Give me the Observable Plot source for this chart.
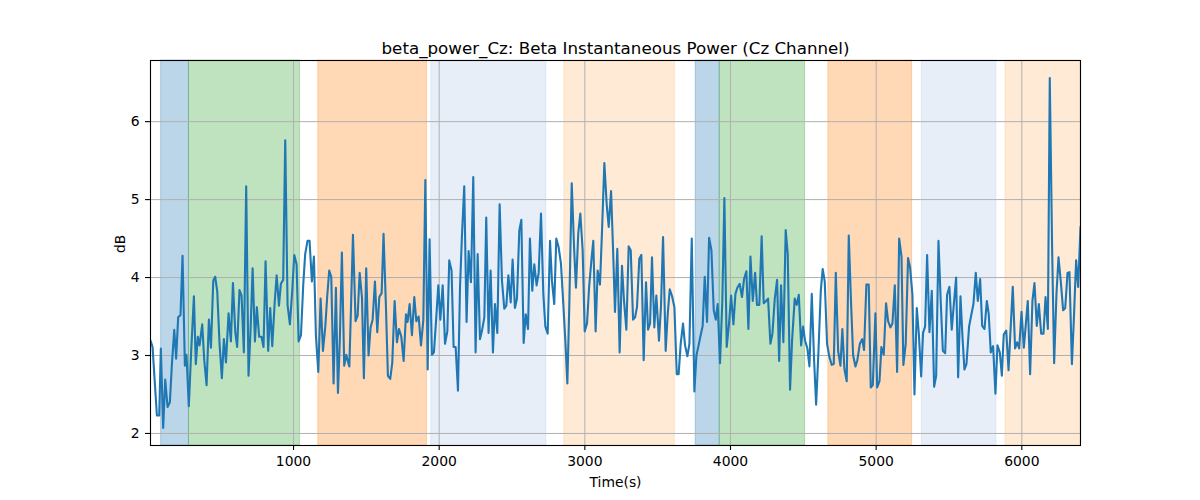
<!DOCTYPE html>
<html><head><meta charset="utf-8">
<script src="https://cdn.jsdelivr.net/npm/d3@7"></script>
<script src="https://cdn.jsdelivr.net/npm/@observablehq/plot@0.6"></script>
<style>body{margin:0;background:#fff}</style>
</head><body><div id="chart"></div>
<script>
const times = [18,32,62,78,89,105,119,135,151,165,181,194,208,224,238,254,265,281,297,316,329,343,355,373,387,403,419,433,449,462,476,492,508,522,536,554,570,584,600,613,629,643,659,675,691,705,719,735,748,764,780,794,808,826,840,854,870,884,900,913,929,943,959,975,991,1005,1021,1035,1051,1067,
1080,1096,1110,1126,1140,1154,1170,1186,1202,1218,1231,1245,1259,1275,1291,1305,1318,1332,1348,1362,1371,1383,1394,1408,1426,1440,1454,1470,1483,1499,1515,1529,1543,1559,1575,1589,1605,1618,1634,1648,1664,1678,1694,1710,1724,1740,1756,1772,1783,1797,1813,1829,1843,1859,1875,1891,1905,1921,1934,1950,1964,1980,1994,2008,2024,2040,2056,2069,2085,2099,2113,2129,
2143,2156,2172,2188,2202,2218,2234,2250,2264,2280,2294,2310,2323,2339,2353,2369,2383,2399,2415,2431,2447,2461,2475,2491,2504,2520,2534,2550,2564,2580,2594,2610,2623,2639,2653,2669,2683,2699,2715,2729,2745,2761,2774,2790,2804,2820,2836,2850,2866,2880,2893,2910,2926,2939,2955,2969,2985,2999,3015,3029,3045,3058,3074,3088,3104,3118,3134,3150,3164,3180,3194,
3207,3223,3239,3255,3269,3285,3301,3315,3331,3345,3358,3374,3388,3404,3420,3434,3448,3461,3477,3491,3509,3523,3537,3555,3569,3583,3599,3615,3631,3644,3658,3674,3688,3704,3718,3734,3752,3766,3780,3793,3809,3823,3839,3853,3869,3885,3899,3912,3928,3944,3958,3974,3990,4004,4020,4034,4047,4063,4079,4093,4109,4123,4137,4153,4169,4182,4198,4214,4228,4244,4258,4274,
4288,4304,4320,4334,4347,4363,4379,4393,4409,4423,4441,4455,4469,4485,4498,4512,4528,4542,4558,4574,4588,4604,4620,4633,4647,4663,4679,4695,4709,4723,4739,4755,4768,4782,4798,4812,4828,4842,4858,4871,4888,4904,4917,4933,4949,4963,4977,4995,5007,5023,5036,5052,5068,5082,5098,5112,5128,5144,5158,5174,5187,5203,5219,5233,5249,5263,5279,5293,5309,5322,
5336,5350,5366,5382,5398,5412,5428,5444,5458,5474,5487,5503,5519,5533,5549,5563,5579,5593,5606,5620,5638,5652,5668,5684,5698,5714,5728,5744,5760,5773,5787,5803,5819,5833,5849,5863,5876,5893,5909,5922,5938,5954,5968,5982,5998,6014,6028,6041,6057,6073,6087,6103,6117,6133,6149,6163,6179,6192,6208,6222,6238,6252,6268,6284,6298,6314,6327,6344,6357,6373,6387,6403];

const values = [3.19,3.11,2.23,2.23,3.09,2.07,2.69,2.34,2.40,2.89,3.33,2.96,3.49,3.52,4.28,2.87,3.01,2.35,3.04,3.76,2.89,3.24,3.13,3.40,2.94,2.62,3.46,3.10,3.96,4.01,3.83,3.15,2.71,3.21,2.91,3.54,3.18,3.93,3.30,3.11,3.84,3.77,3.04,5.17,2.74,3.32,4.12,3.18,3.62,3.24,3.24,3.11,4.21,3.06,3.61,3.12,3.66,4.03,3.64,3.92,3.97,5.76,3.65,3.40,3.83,4.29,4.17,3.18,3.26,3.92,
4.30,4.47,4.47,3.95,4.27,3.24,2.79,3.73,3.06,3.37,3.75,4.09,4.01,2.64,3.87,2.52,3.21,4.32,2.87,3.01,2.94,2.86,3.57,4.55,3.44,3.51,4.06,3.74,2.71,4.12,3.00,3.36,3.46,3.95,3.30,3.75,3.80,4.56,3.65,2.74,2.70,2.91,3.70,3.17,3.34,3.24,2.93,3.53,3.43,3.66,3.26,3.75,3.44,3.50,3.13,3.45,5.25,2.82,4.49,3.01,3.04,3.49,3.90,3.46,3.90,3.15,3.31,4.22,4.09,3.11,3.11,2.55,
3.88,4.52,5.17,3.43,4.34,3.94,5.29,3.04,4.30,3.21,3.32,3.49,4.77,3.29,4.09,3.04,3.66,3.29,4.94,3.96,3.60,3.64,4.03,3.68,4.23,3.61,3.73,4.60,4.74,3.16,3.53,3.34,4.50,3.83,4.17,3.90,4.06,4.82,3.79,3.37,3.28,4.47,3.96,3.66,4.50,4.39,4.18,3.73,3.19,2.64,3.62,5.21,4.39,3.87,4.57,4.82,4.35,3.31,3.41,3.87,4.22,4.47,3.31,4.09,3.91,4.60,5.47,4.94,4.65,5.11,4.35,
3.56,4.37,3.04,4.15,3.70,3.33,4.40,4.35,3.46,3.49,3.62,4.24,4.29,2.94,3.94,3.33,3.41,4.26,3.36,3.77,3.19,3.64,4.52,3.06,3.53,3.85,3.76,3.62,2.76,2.76,3.15,3.41,3.13,2.99,3.15,4.50,2.54,3.00,3.12,3.24,3.38,4.01,3.43,4.51,4.35,3.58,3.46,3.66,2.90,3.71,5.02,3.11,3.41,3.77,3.40,3.79,3.87,3.92,3.75,3.98,4.08,3.34,4.27,3.70,4.06,3.65,3.65,4.53,3.67,3.70,3.73,3.15,
3.28,3.73,3.97,2.93,3.90,3.17,4.61,4.30,2.56,3.20,3.73,3.65,3.78,3.13,3.37,3.19,3.09,2.86,3.79,2.94,2.37,3.06,3.83,4.11,3.95,3.15,2.98,2.88,2.89,4.06,3.06,2.87,3.34,2.83,2.67,4.54,3.66,3.00,2.86,2.94,3.15,3.21,3.07,3.91,3.91,2.59,2.62,3.54,2.59,2.67,3.11,3.01,3.67,3.44,3.36,3.41,3.90,2.79,4.50,4.27,2.88,3.15,4.25,4.13,3.78,2.50,3.61,3.28,2.73,3.29,
3.37,4.29,3.30,3.83,2.60,2.74,4.47,3.66,3.06,3.03,3.78,3.88,3.33,3.65,4.00,2.72,3.76,3.23,2.82,2.89,3.37,3.51,3.66,4.06,3.70,3.98,3.38,3.34,3.70,3.53,3.04,3.12,2.51,3.13,3.04,2.74,3.27,3.32,2.81,3.30,3.88,3.09,3.17,3.09,3.56,3.10,3.41,3.70,2.76,3.70,3.93,3.38,3.66,3.28,3.28,3.75,3.34,6.56,4.39,2.90,3.79,4.26,3.94,3.58,3.61,4.06,4.07,2.89,3.45,4.22,3.88,4.65];

const spanStart = [91, 282, 1170, 1946, 2859, 3761, 3926, 4672, 5313, 5888];
const spanEnd   = [282, 1044, 1916, 2736, 3618, 3926, 4512, 5247, 5826, 6403];
const spanKind  = ["blue","green","orange","lightblue","lightorange","blue","green","orange","lightblue","lightorange"];
const kindNames  = ["blue","green","orange","lightblue","lightorange"];
const kindColors = ["#1f77b4","#2ca02c","#ff7f0e","#aec7e8","#ffbb78"];

const xTicks = [1000, 2000, 3000, 4000, 5000, 6000];
const yTicks = [2, 3, 4, 5, 6];
const titleText = "beta_power_Cz: Beta Instantaneous Power (Cz Channel)";
const xLabel = "Time(s)";
const yLabel = "dB";

const series = times.map((t, i) => ({t, v: values[i]}));
const spans = spanStart.map((s, i) => ({x1: s, x2: spanEnd[i], kind: spanKind[i]}));
const [vmin, vmax] = d3.extent(values);
const pad = (vmax - vmin) * 0.05;

const chart = Plot.plot({
  width: 1200, height: 500,
  marginLeft: 150, marginRight: 120, marginTop: 60, marginBottom: 55,
  style: {fontFamily: "DejaVu Sans", fontSize: "13.9px", color: "black", background: "white"},
  x: {domain: d3.extent(times)},
  y: {domain: [vmin - pad, vmax + pad]},
  color: {domain: kindNames, range: kindColors},
  marks: [
    Plot.rect(spans, {x1: "x1", x2: "x2", fill: "kind", fillOpacity: 0.3, stroke: "kind", strokeOpacity: 0.3, strokeWidth: 1}),
    Plot.gridX(xTicks, {stroke: "#b0b0b0", strokeOpacity: 1, strokeWidth: 1}),
    Plot.gridY(yTicks, {stroke: "#b0b0b0", strokeOpacity: 1, strokeWidth: 1}),
    Plot.line(series, {x: "t", y: "v", stroke: "#1f77b4", strokeWidth: 2.1, clip: true}),
    Plot.frame({stroke: "black", strokeWidth: 1.1}),
    Plot.axisX(xTicks, {tickSize: 5, tickPadding: 6, label: null, strokeWidth: 1.1, tickFormat: d => String(d)}),
    Plot.axisY(yTicks, {tickSize: 5, tickPadding: 6, label: null, strokeWidth: 1.1, tickFormat: d => String(d)}),
    Plot.text([titleText], {frameAnchor: "top", dy: -7, lineAnchor: "bottom", fontSize: 16.7, text: d => d}),
    Plot.text([xLabel], {frameAnchor: "bottom", dy: 41, lineAnchor: "bottom", text: d => d}),
    Plot.text([yLabel], {frameAnchor: "left", dx: -26, rotate: -90, lineAnchor: "bottom", text: d => d})
  ]
});
document.getElementById("chart").appendChild(chart);
</script>
</body></html>
